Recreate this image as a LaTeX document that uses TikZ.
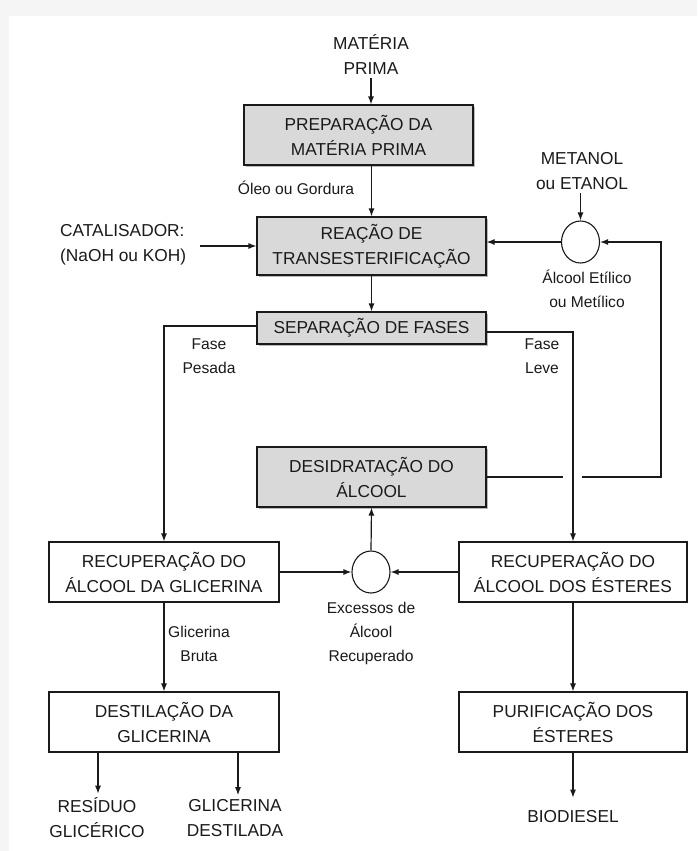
\documentclass[tikz,border=0pt]{standalone}
\usepackage{fontspec}
\setmainfont{Liberation Sans}
\usetikzlibrary{arrows.meta,shadows,shapes.geometric}
\definecolor{boxgrey}{HTML}{D9D9D9}
\definecolor{ink}{HTML}{1A1A1A}
\tikzset{
  mtxt/.style={font=\fontsize{17.3}{25}\selectfont, align=center, text=ink},
  ltxt/.style={font=\fontsize{15.6}{24}\selectfont, align=center, text=ink, inner sep=0pt},
  greybox/.style={mtxt, draw=ink, line width=1.1pt, fill=boxgrey, minimum width=229pt, inner sep=0pt,
     drop shadow={shadow xshift=2pt, shadow yshift=-2pt, fill=gray!55, opacity=1}},
  whitebox/.style={mtxt, draw=ink, line width=1.1pt, fill=white, minimum width=229pt, minimum height=60pt, inner sep=0pt},
  mixer/.style={ellipse, draw=ink, line width=1.1pt, fill=white, minimum width=38pt, minimum height=42pt, inner sep=0pt},
  conn/.style={draw=ink, line width=1.2pt},
  arr/.style={conn, -{Latex[length=8pt,width=6pt]}}
}
\begin{document}
\begin{tikzpicture}[x=1pt,y=-1pt]
\useasboundingbox (0,0) rectangle (697,851);
\fill[gray!8] (0,0) rectangle (697,851);
\fill[white] (9,16) rectangle (697,851);

% text-only nodes
\node[mtxt, inner sep=0pt] (mp) at (371,54) {MATÉRIA\\PRIMA};
\node[ltxt] (oleo) at (296,188) {Óleo ou Gordura};
\node[mtxt, inner sep=0pt] (met) at (582,171) {METANOL\\ou ETANOL};
\node[mtxt, align=left, inner sep=0pt, anchor=west] (cat) at (60,245) {CATALISADOR:\\(NaOH ou KOH)};
\node[ltxt] (alc) at (587,289) {Álcool Etílico\\ou Metílico};
\node[ltxt] (fp) at (209,356) {Fase\\Pesada};
\node[ltxt] (fl) at (542,356) {Fase\\Leve};
\node[ltxt] (gb) at (199,644) {Glicerina\\Bruta};
\node[ltxt] (exc) at (371,633) {Excessos de\\Álcool\\Recuperado};
\node[mtxt, inner sep=0pt] (res) at (97,818) {RESÍDUO\\GLICÉRICO};
\node[mtxt, inner sep=0pt] (gd) at (235,818) {GLICERINA\\DESTILADA};
\node[mtxt, inner sep=0pt] (bio) at (573,817) {BIODIESEL};

% process boxes
\node[greybox, minimum height=60pt] (prep) at (358.5,135) {PREPARAÇÃO DA\\MATÉRIA PRIMA};
\node[greybox, minimum height=58pt] (reac) at (371.5,246) {REAÇÃO DE\\TRANSESTERIFICAÇÃO};
\node[greybox, minimum height=32pt] (sep) at (371.5,328) {SEPARAÇÃO DE FASES};
\node[greybox, minimum height=60pt] (des) at (371.5,477) {DESIDRATAÇÃO DO\\ÁLCOOL};
\node[whitebox, minimum width=230pt] (rl) at (164,572) {RECUPERAÇÃO DO\\ÁLCOOL DA GLICERINA};
\node[whitebox, minimum width=228pt] (rr) at (573,572) {RECUPERAÇÃO DO\\ÁLCOOL DOS ÉSTERES};
\node[whitebox, minimum width=230pt] (dg) at (164,722) {DESTILAÇÃO DA\\GLICERINA};
\node[whitebox, minimum width=228pt] (pe) at (573,722) {PURIFICAÇÃO DOS\\ÉSTERES};

% mixers
\node[mixer] (c1) at (580.5,242) {};
\node[mixer] (c2) at (371,572) {};

% helper coordinates
\coordinate (jl) at (563,477);
\coordinate (jr) at (582,477);
\coordinate (lp) at (661,477);

% connectors
\draw[arr] ([yshift=-4pt]mp.south) -- (mp.south |- prep.north);
\draw[arr] (reac.north |- prep.south) -- (reac.north);
\draw[arr] ([xshift=14pt]cat.east |- reac.west) -- (reac.west);
\draw[arr] ([yshift=-3pt]c1.north |- met.south) -- (c1.north);
\draw[arr] (c1.west) -- (c1.west -| reac.east);
\draw[arr] (reac.south) -- (sep.north);
\draw[arr] ([yshift=2pt]sep.west) -| (rl.north);
\draw[arr] ([yshift=-4pt]sep.east) -| (rr.north);
\draw[conn] (des.east) -- (jl);
\draw[arr] (jr) -- (lp) |- (c1.east);
\draw[arr] (rl.east) -- (c2.west);
\draw[arr] (rr.west) -- (c2.east);
\draw[arr] (c2.north) -- (des.south);
\draw[arr] (rl.south) -- (dg.north);
\draw[arr] (rr.south) -- (pe.north);
\draw[arr, shorten >=4pt] ([xshift=1pt]res.north |- dg.south) -- ([xshift=1pt]res.north);
\draw[arr, shorten >=4pt] ([xshift=3pt]gd.north |- dg.south) -- ([xshift=3pt]gd.north);
\draw[arr, shorten >=13pt] (pe.south) -- (bio.north);
\end{tikzpicture}
\end{document}
